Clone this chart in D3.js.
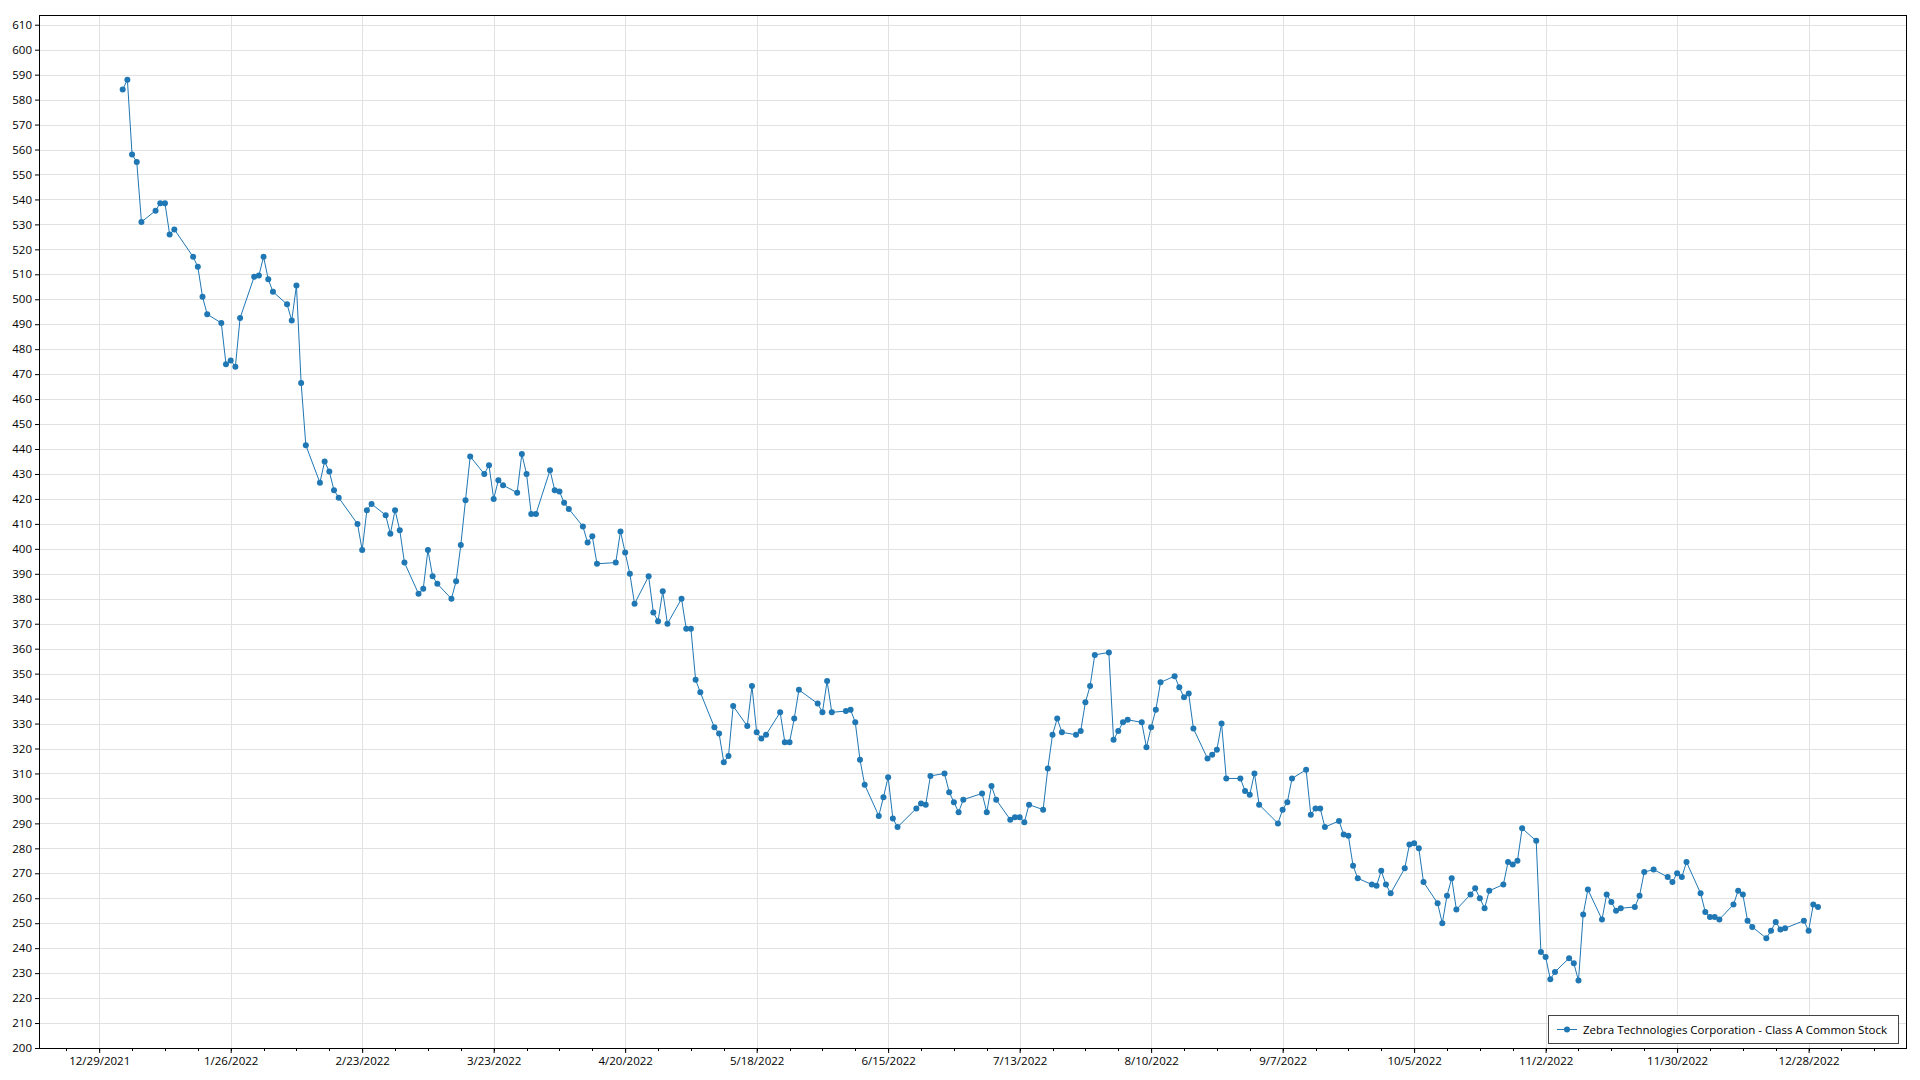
<!DOCTYPE html>
<html>
<head>
<meta charset="utf-8">
<script src="https://cdn.jsdelivr.net/npm/d3@7"></script>
<style>
html,body{margin:0;padding:0;background:#fff;}
svg{display:block;font-family:"Segoe UI","Open Sans","Noto Sans",sans-serif;}
</style>
</head>
<body>
<svg id="chart" width="1920" height="1080"></svg>
<script>
const seriesName = "Zebra Technologies Corporation - Class A Common Stock";
const dates = ["2022-01-03","2022-01-04","2022-01-05","2022-01-06","2022-01-07","2022-01-10","2022-01-11","2022-01-12","2022-01-13","2022-01-14","2022-01-18","2022-01-19","2022-01-20","2022-01-21","2022-01-24","2022-01-25","2022-01-26","2022-01-27","2022-01-28","2022-01-31",
"2022-02-01","2022-02-02","2022-02-03","2022-02-04","2022-02-07","2022-02-08","2022-02-09","2022-02-10","2022-02-11","2022-02-14","2022-02-15","2022-02-16","2022-02-17","2022-02-18","2022-02-22","2022-02-23","2022-02-24","2022-02-25","2022-02-28",
"2022-03-01","2022-03-02","2022-03-03","2022-03-04","2022-03-07","2022-03-08","2022-03-09","2022-03-10","2022-03-11","2022-03-14","2022-03-15","2022-03-16","2022-03-17","2022-03-18","2022-03-21","2022-03-22","2022-03-23","2022-03-24","2022-03-25","2022-03-28","2022-03-29","2022-03-30","2022-03-31",
"2022-04-01","2022-04-04","2022-04-05","2022-04-06","2022-04-07","2022-04-08","2022-04-11","2022-04-12","2022-04-13","2022-04-14","2022-04-18","2022-04-19","2022-04-20","2022-04-21","2022-04-22","2022-04-25","2022-04-26","2022-04-27","2022-04-28","2022-04-29",
"2022-05-02","2022-05-03","2022-05-04","2022-05-05","2022-05-06","2022-05-09","2022-05-10","2022-05-11","2022-05-12","2022-05-13","2022-05-16","2022-05-17","2022-05-18","2022-05-19","2022-05-20","2022-05-23","2022-05-24","2022-05-25","2022-05-26","2022-05-27","2022-05-31",
"2022-06-01","2022-06-02","2022-06-03","2022-06-06","2022-06-07","2022-06-08","2022-06-09","2022-06-10","2022-06-13","2022-06-14","2022-06-15","2022-06-16","2022-06-17","2022-06-21","2022-06-22","2022-06-23","2022-06-24","2022-06-27","2022-06-28","2022-06-29","2022-06-30",
"2022-07-01","2022-07-05","2022-07-06","2022-07-07","2022-07-08","2022-07-11","2022-07-12","2022-07-13","2022-07-14","2022-07-15","2022-07-18","2022-07-19","2022-07-20","2022-07-21","2022-07-22","2022-07-25","2022-07-26","2022-07-27","2022-07-28","2022-07-29",
"2022-08-01","2022-08-02","2022-08-03","2022-08-04","2022-08-05","2022-08-08","2022-08-09","2022-08-10","2022-08-11","2022-08-12","2022-08-15","2022-08-16","2022-08-17","2022-08-18","2022-08-19","2022-08-22","2022-08-23","2022-08-24","2022-08-25","2022-08-26","2022-08-29","2022-08-30","2022-08-31",
"2022-09-01","2022-09-02","2022-09-06","2022-09-07","2022-09-08","2022-09-09","2022-09-12","2022-09-13","2022-09-14","2022-09-15","2022-09-16","2022-09-19","2022-09-20","2022-09-21","2022-09-22","2022-09-23","2022-09-26","2022-09-27","2022-09-28","2022-09-29","2022-09-30",
"2022-10-03","2022-10-04","2022-10-05","2022-10-06","2022-10-07","2022-10-10","2022-10-11","2022-10-12","2022-10-13","2022-10-14","2022-10-17","2022-10-18","2022-10-19","2022-10-20","2022-10-21","2022-10-24","2022-10-25","2022-10-26","2022-10-27","2022-10-28","2022-10-31",
"2022-11-01","2022-11-02","2022-11-03","2022-11-04","2022-11-07","2022-11-08","2022-11-09","2022-11-10","2022-11-11","2022-11-14","2022-11-15","2022-11-16","2022-11-17","2022-11-18","2022-11-21","2022-11-22","2022-11-23","2022-11-25","2022-11-28","2022-11-29","2022-11-30",
"2022-12-01","2022-12-02","2022-12-05","2022-12-06","2022-12-07","2022-12-08","2022-12-09","2022-12-12","2022-12-13","2022-12-14","2022-12-15","2022-12-16","2022-12-19","2022-12-20","2022-12-21","2022-12-22","2022-12-23","2022-12-27","2022-12-28","2022-12-29","2022-12-30"];
const prices = [584,588,558,555,531,535.5,538.5,538.5,526,528,517,513,501,494,490.5,474,475.5,473,492.5,509,
509.5,517,508,503,498,491.5,505.5,466.5,441.5,426.5,435,431,423.5,420.5,410,399.5,415.5,418,413.5,
406,415.5,407.5,394.5,382,384,399.5,389,386,380,387,401.5,419.5,437,430,433.5,420,427.5,425.5,422.5,438,430,414,
414,431.5,423.5,423,418.5,416,409,402.5,405,394,394.5,407,398.5,390,378,389,374.5,371,383,370,
380,368,368,347.5,342.5,328.5,326,314.5,317,337,329,345,326.5,324,325.5,334.5,322.5,322.5,332,343.5,338,
334.5,347,334.5,335,335.5,330.5,315.5,305.5,293,300.5,308.5,292,288.5,296,298,297.5,309,310,302.5,298.5,294.5,
299.5,302,294.5,305,299.5,291.5,292.5,292.5,290.5,297.5,295.5,312,325.5,332,326.5,325.5,327,338.5,345,357.5,
358.5,323.5,327,330.5,331.5,330.5,320.5,328.5,335.5,346.5,349,344.5,340.5,342,328,316,317.5,319.5,330,308,308,303,301.5,
310,297.5,290,295.5,298.5,308,311.5,293.5,296,296,288.5,291,285.5,285,273,268,265.5,265,271,265.5,262,
272,281.5,282,280,266.5,258,250,261,268,255.5,261.5,264,260,256,263,265.5,274.5,273.5,275,288,283,
238.5,236.5,227.5,230.5,236,234,227,253.5,263.5,251.5,261.5,258.5,255,256,256.5,261,270.5,271.5,268.5,266.5,270,
268.5,274.5,262,254.5,252.5,252.5,251.5,257.5,263,261.5,251,248.5,244,247,250.5,247.5,248,251,247,257.5,256.5];
const xTickLabels = ["12/29/2021","1/26/2022","2/23/2022","3/23/2022","4/20/2022","5/18/2022","6/15/2022","7/13/2022","8/10/2022","9/7/2022","10/5/2022","11/2/2022","11/30/2022","12/28/2022"];
const yTickValues = d3.range(200, 611, 10);

const parseISO = d3.timeParse("%Y-%m-%d");
const parseTick = d3.timeParse("%m/%d/%Y");
const data = dates.map((d,i)=>({date: parseISO(d), value: prices[i]}));
const tickDates = xTickLabels.map(parseTick);

const L = 39, R = 1906, T = 15, B = 1048;
// x scale anchored on first and last tick positions
const x = d3.scaleTime()
  .domain([tickDates[0], tickDates[tickDates.length-1]])
  .range([99.2, 1808.6]);
const y = d3.scaleLinear().domain([200, 613.9]).range([B, T]);

const svg = d3.select("#chart");
const color = "#1f77b4";

// gridlines
const grid = svg.append("g");
grid.selectAll("line.h").data(yTickValues).join("line")
  .attr("x1", L).attr("x2", R)
  .attr("y1", d=>Math.round(y(d))+0.5).attr("y2", d=>Math.round(y(d))+0.5)
  .attr("stroke", "#e2e2e2").attr("stroke-width", 1);
grid.selectAll("line.v").data(tickDates).join("line")
  .attr("y1", T).attr("y2", B)
  .attr("x1", d=>Math.round(x(d))+0.5).attr("x2", d=>Math.round(x(d))+0.5)
  .attr("stroke", "#e2e2e2").attr("stroke-width", 1);

// axes
const yAxis = d3.axisLeft(y).tickValues(yTickValues).tickSize(4).tickPadding(3).tickFormat(d3.format("d"));
const gy = svg.append("g").attr("transform", `translate(${L},0)`).call(yAxis);
const fmt = d3.timeFormat("%-m/%-d/%Y");
const xAxis = d3.axisBottom(x).tickValues(tickDates).tickSize(5).tickPadding(4).tickFormat(fmt);
const gx = svg.append("g").attr("transform", `translate(0,${B})`).call(xAxis);
[gy, gx].forEach(g=>{
  g.select(".domain").remove();
  g.selectAll(".tick line").attr("stroke", "#000");
  g.selectAll("text").attr("fill", "#000").style("font-size", "11.5px")
    .style("font-family", '"Segoe UI","Open Sans","Noto Sans",sans-serif');
});
// minor ticks on x axis (weekly)
const minor = d3.timeDay.range(x.invert(L), x.invert(R)).filter(d=>d.getDay()===3);
svg.append("g").selectAll("line").data(minor).join("line")
  .attr("x1", d=>Math.round(x(d))+0.5).attr("x2", d=>Math.round(x(d))+0.5)
  .attr("y1", B).attr("y2", B+3).attr("stroke", "#000");

// frame
svg.append("rect").attr("x", L+0.5).attr("y", T+0.5).attr("width", R-L).attr("height", B-T)
  .attr("fill", "none").attr("stroke", "#000").attr("stroke-width", 1);

// line + markers
const line = d3.line().x(d=>x(d.date)).y(d=>y(d.value));
svg.append("path").datum(data).attr("d", line)
  .attr("fill", "none").attr("stroke", color).attr("stroke-width", 1);
svg.append("g").selectAll("circle").data(data).join("circle")
  .attr("cx", d=>x(d.date)).attr("cy", d=>y(d.value)).attr("r", 3).attr("fill", color);

// legend
const lg = svg.append("g");
lg.append("rect").attr("x", 1548.5).attr("y", 1015.5).attr("width", 350).attr("height", 28)
  .attr("fill", "#fff").attr("stroke", "#444").attr("stroke-width", 1);
lg.append("line").attr("x1", 1557).attr("x2", 1577).attr("y1", 1029.5).attr("y2", 1029.5)
  .attr("stroke", color).attr("stroke-width", 1);
lg.append("circle").attr("cx", 1567).attr("cy", 1029.5).attr("r", 3).attr("fill", color);
lg.append("text").attr("x", 1583).attr("y", 1034).text(seriesName)
  .attr("fill", "#000").style("font-size", "11.5px");
</script>
</body>
</html>
